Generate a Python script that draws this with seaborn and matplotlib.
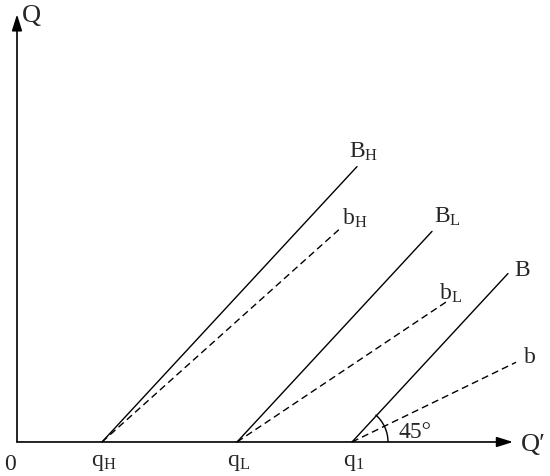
import numpy as np
import pandas as pd
import matplotlib
matplotlib.use('Agg')
import matplotlib.pyplot as plt
import seaborn as sns
from matplotlib.patches import Arc

# ---- data ----
starts = [8.5, 22.0, 33.5]                       # q_H, q_L, q_1 on the Q' axis
start_labels = [r'$\mathrm{q}_{\mathrm{H}}$', r'$\mathrm{q}_{\mathrm{L}}$', r'$\mathrm{q}_{1}$']
solid_ends = [34.0, 41.5, 49.1]                  # B lines, 45 degree (slope 1)
solid_labels = [r'$\mathrm{B}_{\mathrm{H}}$', r'$\mathrm{B}_{\mathrm{L}}$', 'B']
dash_slopes = [0.83, 0.62, 0.45]                 # b lines
dash_ends = [32.2, 43.1, 49.9]
dash_labels = [r'$\mathrm{b}_{\mathrm{H}}$', r'$\mathrm{b}_{\mathrm{L}}$', 'b']
x_axis_end = 49.6
y_axis_end = 39.6

sns.set_theme(style='white')
plt.rcParams['font.family'] = ['Liberation Serif', 'DejaVu Serif']
plt.rcParams['mathtext.fontset'] = 'custom'
plt.rcParams['mathtext.rm'] = 'Liberation Serif'
plt.rcParams['mathtext.it'] = 'Liberation Serif:italic'

# long-form table of line segments
rows = []
for i, s in enumerate(starts):
    rows.append({'line': f'B{i}', 'kind': 'B', 'x': s, 'y': 0.0})
    rows.append({'line': f'B{i}', 'kind': 'B', 'x': solid_ends[i], 'y': solid_ends[i] - s})
    rows.append({'line': f'b{i}', 'kind': 'b', 'x': s, 'y': 0.0})
    rows.append({'line': f'b{i}', 'kind': 'b', 'x': dash_ends[i], 'y': dash_slopes[i] * (dash_ends[i] - s)})
df = pd.DataFrame(rows)

fig = plt.figure(figsize=(5.5, 4.77), dpi=100)
ax = fig.add_axes([0, 0, 1, 1])
ax.set_xlim(-1.7, 53.3)
ax.set_ylim(-3.15, 41.02)
ax.axis('off')

sns.lineplot(data=df, x='x', y='y', units='line', estimator=None, style='kind',
             dashes={'B': '', 'b': (5, 3)}, color='black', lw=1.0,
             legend=False, sort=False, ax=ax)

# axes with arrows
arrow = dict(arrowstyle='-|>,head_length=0.7,head_width=0.22', color='black',
             lw=1.2, mutation_scale=14, shrinkA=0, shrinkB=0)
ax.annotate('', xy=(x_axis_end, 0), xytext=(0, 0), arrowprops=arrow)
ax.annotate('', xy=(0, y_axis_end), xytext=(0, 0), arrowprops=arrow)

fs = 17
ax.text(0.5, y_axis_end - 0.1, 'Q', fontsize=19, ha='left', va='center')
ax.text(x_axis_end + 0.8, -0.2, 'Q\u2032', fontsize=19, ha='left', va='center')
ax.text(-0.7, -2.0, '0', fontsize=fs, ha='center', va='center')

for s, lab in zip(starts, start_labels):
    ax.text(s + 0.2, -1.8, lab, fontsize=fs, ha='center', va='center')

# line labels (offsets in points from the line ends)
solid_off = [(5, 11), (11, 11), (10, 3)]
dash_off = [(11, 9), (2, 6), (10, 4)]
for i, s in enumerate(starts):
    ax.annotate(solid_labels[i], xy=(solid_ends[i], solid_ends[i] - s),
                xytext=solid_off[i], textcoords='offset points',
                fontsize=fs, ha='center', va='center')
    ax.annotate(dash_labels[i], xy=(dash_ends[i], dash_slopes[i] * (dash_ends[i] - s)),
                xytext=dash_off[i], textcoords='offset points',
                fontsize=fs, ha='center', va='center')

# 45 degree arc at q_1
ax.add_patch(Arc((starts[2], 0), 7.2, 6.67, theta1=0, theta2=47, color='black', lw=1.0))
ax.text(starts[2] + 6.3, 0.95, '45\u00b0', fontsize=fs, ha='center', va='center')

fig.savefig('out.png', dpi=100)
